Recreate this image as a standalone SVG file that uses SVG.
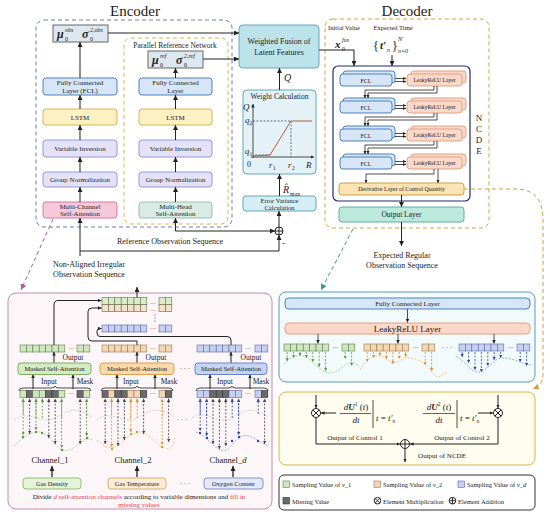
<svg xmlns="http://www.w3.org/2000/svg" width="550" height="515" viewBox="0 0 550 515">
<defs>
<marker id="a" viewBox="0 0 6 6" refX="6" refY="3" markerWidth="5" markerHeight="5" markerUnits="userSpaceOnUse" orient="auto-start-reverse"><path d="M0,0L6,3L0,6z" fill="#222"/></marker>
<marker id="as" viewBox="0 0 6 6" refX="6" refY="3" markerWidth="3.5" markerHeight="3.5" markerUnits="userSpaceOnUse" orient="auto-start-reverse"><path d="M0,0L6,3L0,6z" fill="#222"/></marker>
<marker id="mg" viewBox="0 0 6 6" refX="6" refY="3" markerWidth="3.5" markerHeight="3.5" markerUnits="userSpaceOnUse" orient="auto-start-reverse"><path d="M0,0L6,3L0,6z" fill="#5a9a3a"/></marker>
<marker id="mo" viewBox="0 0 6 6" refX="6" refY="3" markerWidth="3.5" markerHeight="3.5" markerUnits="userSpaceOnUse" orient="auto-start-reverse"><path d="M0,0L6,3L0,6z" fill="#e0922a"/></marker>
<marker id="mb" viewBox="0 0 6 6" refX="6" refY="3" markerWidth="3.5" markerHeight="3.5" markerUnits="userSpaceOnUse" orient="auto-start-reverse"><path d="M0,0L6,3L0,6z" fill="#2a44c0"/></marker>
<marker id="md" viewBox="0 0 6 6" refX="6" refY="3" markerWidth="3.5" markerHeight="3.5" markerUnits="userSpaceOnUse" orient="auto-start-reverse"><path d="M0,0L6,3L0,6z" fill="#444"/></marker>
<marker id="mp" viewBox="0 0 6 6" refX="6" refY="3" markerWidth="6" markerHeight="6" markerUnits="userSpaceOnUse" orient="auto"><path d="M0,0L6,3L0,6z" fill="#b0608a"/></marker>
<marker id="mt" viewBox="0 0 6 6" refX="6" refY="3" markerWidth="6" markerHeight="6" markerUnits="userSpaceOnUse" orient="auto"><path d="M0,0L6,3L0,6z" fill="#3a9a8a"/></marker>
<marker id="my" viewBox="0 0 6 6" refX="6" refY="3" markerWidth="6" markerHeight="6" markerUnits="userSpaceOnUse" orient="auto"><path d="M0,0L6,3L0,6z" fill="#d4a030"/></marker>
</defs>
<style>
text{font-family:"Liberation Serif","Times New Roman",serif;fill:#222}
.c{text-anchor:middle}
.ln{fill:none;stroke:#222;stroke-width:1}
.lt{fill:none;stroke:#222;stroke-width:0.8}
.mu{fill:#dde7f0;stroke:#666;stroke-width:1}
.fcl{fill:#d6e6f6;stroke:#4f81bd;stroke-width:1}
.lstm{fill:#fdf1c4;stroke:#d6b656;stroke-width:1}
.lav{fill:#e4e2f7;stroke:#9a95d5;stroke-width:1}
.mcsa{fill:#f6c9d9;stroke:#d77aa5;stroke-width:1}
.mhsa{fill:#d9ebe3;stroke:#96bfae;stroke-width:1}
.teal{fill:#bde3ea;stroke:#62a9b8;stroke-width:1}
.tl{fill:#e4f2f7;stroke:#62a9b8;stroke-width:1}
.lr{fill:#fbd8c8;stroke:#e0a284;stroke-width:1}
.der{fill:#fbe3b5;stroke:#d4a040;stroke-width:1}
.out{fill:#bde8dc;stroke:#62b0a0;stroke-width:1}
.cg{fill:#cfe6bf;stroke:#5e7d4e;stroke-width:.6}
.co{fill:#f3d6b3;stroke:#9a7a50;stroke-width:.6}
.cb{fill:#c7d1ef;stroke:#5a6aa8;stroke-width:.6}
.cd{fill:#6a6a6a;stroke:#333;stroke-width:.6}
.cw{fill:#f1e3c8;stroke:#6a6050;stroke-width:.6}
.cy{fill:#d9ebc9;stroke:#5e7d4e;stroke-width:.6}
.dg{fill:none;stroke:#5a9a3a;stroke-width:.8;stroke-dasharray:2,1.5}
.do{fill:none;stroke:#e0922a;stroke-width:.8;stroke-dasharray:2,1.5}
.db{fill:none;stroke:#2a44c0;stroke-width:.8;stroke-dasharray:2,1.5}
.dd{fill:none;stroke:#444;stroke-width:.8;stroke-dasharray:2,1.5}
.wg{fill:none;stroke:#8cc070;stroke-width:.7;stroke-dasharray:2,1.5}
.wo{fill:none;stroke:#e8b060;stroke-width:.7;stroke-dasharray:2,1.5}
.wb{fill:none;stroke:#7088d8;stroke-width:.7;stroke-dasharray:2,1.5}
.wgr{fill:none;stroke:#b8c0b0;stroke-width:.7;stroke-dasharray:2,1.5}
</style>
<rect width="550" height="515" fill="#fff"/>

<!-- Titles -->
<text x="135" y="16" class="c" font-size="15">Encoder</text>
<text x="407" y="16" class="c" font-size="15">Decoder</text>

<!-- Encoder frame -->
<g id="encoder">
<rect x="36" y="20" width="196" height="207" rx="8" fill="none" stroke="#6a7bb5" stroke-width="1" stroke-dasharray="4,3"/>
</g>
<g id="parallel-ref">
<rect x="124" y="38" width="104" height="186" rx="7" fill="none" stroke="#d9b650" stroke-width="1" stroke-dasharray="4,3"/>
<text x="175" y="48" class="c" font-size="7.5">Parallel Reference Network</text>
</g>

<g id="mu-obs">
<rect class="mu" x="53" y="25" width="55" height="17"/>
<text x="57" y="38" font-size="12" font-weight="bold" font-style="italic">μ</text>
<text x="65" y="41" font-size="6">0</text>
<text x="65" y="32" font-size="6" font-style="italic">obs</text>
<text x="82" y="38" font-size="12" font-weight="bold" font-style="italic">σ</text>
<text x="90" y="41" font-size="6">0</text>
<text x="90" y="32" font-size="6" font-style="italic">2,obs</text>
</g>
<g id="fcl-1"><rect class="fcl" x="43" y="78" width="74" height="17" rx="3"/>
<text x="80" y="85" class="c" font-size="7">Fully Connected</text><text x="80" y="93" class="c" font-size="7">Layer (FCL)</text></g>
<g id="lstm-1"><rect class="lstm" x="43" y="109" width="74" height="16" rx="3"/><text x="80" y="119.5" class="c" font-size="7">LSTM</text></g>
<g id="varinv-1"><rect class="lav" x="43" y="140" width="74" height="17" rx="3"/><text x="80" y="151" class="c" font-size="7">Variable Inversion</text></g>
<g id="groupnorm-1"><rect class="lav" x="43" y="172" width="74" height="15" rx="3"/><text x="80" y="182" class="c" font-size="7">Group Normalization</text></g>
<g id="mcsa"><rect class="mcsa" x="43" y="202" width="74" height="16" rx="3"/>
<text x="80" y="209" class="c" font-size="7">Multi-Channel</text><text x="80" y="216" class="c" font-size="7">Self-Attention</text></g>

<g id="mu-ref">
<rect class="mu" x="148" y="51" width="55" height="17"/>
<text x="152" y="64" font-size="12" font-weight="bold" font-style="italic">μ</text>
<text x="160" y="67" font-size="6">0</text>
<text x="160" y="58" font-size="6" font-style="italic">ref</text>
<text x="176" y="64" font-size="12" font-weight="bold" font-style="italic">σ</text>
<text x="184" y="67" font-size="6">0</text>
<text x="184" y="58" font-size="6" font-style="italic">2,ref</text>
</g>
<g id="fcl-2"><rect class="fcl" x="139" y="78" width="73" height="17" rx="3"/>
<text x="175.5" y="85" class="c" font-size="7">Fully Connected</text><text x="175.5" y="93" class="c" font-size="7">Layer</text></g>
<g id="lstm-2"><rect class="lstm" x="139" y="109" width="73" height="16" rx="3"/><text x="175.5" y="119.5" class="c" font-size="7">LSTM</text></g>
<g id="varinv-2"><rect class="lav" x="139" y="140" width="73" height="17" rx="3"/><text x="175.5" y="151" class="c" font-size="7">Variable Inversion</text></g>
<g id="groupnorm-2"><rect class="lav" x="139" y="172" width="73" height="15" rx="3"/><text x="175.5" y="182" class="c" font-size="7">Group Normalization</text></g>
<g id="mhsa"><rect class="mhsa" x="139" y="202" width="73" height="16" rx="3"/>
<text x="175.5" y="209" class="c" font-size="7">Multi-Head</text><text x="175.5" y="216" class="c" font-size="7">Self-Attention</text></g>

<g id="fusion"><rect class="teal" x="239" y="25" width="80" height="43" rx="4"/>
<text x="279" y="44" class="c" font-size="8">Weighted Fusion of</text><text x="279" y="55" class="c" font-size="8">Latent Features</text></g>

<g id="weight-calc">
<rect class="tl" x="243" y="90" width="73" height="84" rx="4"/>
<text x="279.5" y="99" class="c" font-size="7.5">Weight Calculation</text>
<path d="M253,158V104" class="lt" marker-end="url(#as)"/>
<path d="M251,157H314" class="lt" marker-end="url(#as)"/>
<path d="M253,121H291M291,121V157M255,155H270" fill="none" stroke="#333" stroke-width=".7" stroke-dasharray="2,1.5"/>
<path d="M253,156L270,155L291,121H312" fill="none" stroke="#b05a40" stroke-width="1"/>
<text x="243" y="110" font-size="9" font-style="italic">Q</text>
<text x="245" y="123" font-size="8.5" font-style="italic">q</text><text x="249.5" y="125" font-size="5.5">2</text>
<text x="245" y="154" font-size="8.5" font-style="italic">q</text><text x="249.5" y="156" font-size="5.5">1</text>
<text x="247" y="167" font-size="8">0</text>
<text x="269" y="168" font-size="8.5" font-style="italic">r</text><text x="273" y="170" font-size="5.5">1</text>
<text x="288" y="168" font-size="8.5" font-style="italic">r</text><text x="292" y="170" font-size="5.5">2</text>
<text x="306" y="168" font-size="9" font-style="italic">R</text>
</g>

<g id="error-var"><rect class="tl" x="243" y="196" width="73" height="15" rx="3" style="fill:#d5eef5"/>
<text x="279.5" y="202.5" class="c" font-size="6.5">Error Variance</text><text x="279.5" y="209.5" class="c" font-size="6.5">Calculation</text></g>

<g id="plus-node"><circle cx="279" cy="231" r="4" fill="#fff" stroke="#222" stroke-width="1"/><path d="M275,231H283M279,227V235" stroke="#222" stroke-width="1"/>
<text x="282" y="246" font-size="9">-</text></g>

<!-- Decoder -->
<g id="decoder">
<rect x="325" y="19" width="164" height="209" rx="8" fill="none" stroke="#d9a040" stroke-width="1" stroke-dasharray="4,3"/>
<text x="344" y="30" class="c" font-size="6.5">Initial Value</text>
<text x="393" y="30" class="c" font-size="6.5">Expected Time</text>
<text x="335" y="48" font-size="11" font-weight="bold" font-style="italic">x</text>
<text x="342" y="51" font-size="6">0</text><text x="342" y="42" font-size="6" font-style="italic">fus</text>
<text x="373" y="50" font-size="12">{</text>
<text x="380" y="49" font-size="11" font-weight="bold" font-style="italic">t′</text>
<text x="387" y="52" font-size="6" font-style="italic">n</text>
<text x="392" y="50" font-size="12">}</text>
<text x="398" y="41" font-size="6" font-style="italic">N′</text>
<text x="398" y="53" font-size="6" font-style="italic">n=0</text>
</g>

<g id="ncde">
<rect x="333" y="66" width="137" height="135" rx="5" fill="#fff" stroke="#1f2d6b" stroke-width="1.2"/>
<text x="479" y="121" class="c" font-size="9">N</text>
<text x="479" y="132" class="c" font-size="9">C</text>
<text x="479" y="143" class="c" font-size="9">D</text>
<text x="479" y="154" class="c" font-size="9">E</text>
</g>
<g id="fcl-row1"><rect class="fcl" x="343" y="71" width="52" height="12" rx="3"/><rect class="fcl" x="340" y="74" width="52" height="12" rx="3"/><text x="366" y="82.5" class="c" font-size="6">FCL</text></g>
<g id="lrelu-row1"><rect class="lr" x="411" y="71" width="55" height="12" rx="3"/><rect class="lr" x="407" y="74" width="55" height="12" rx="3"/><text x="434.5" y="82.3" class="c" font-size="5.6">LeakyReLU Layer</text></g>
<g id="fcl-row2"><rect class="fcl" x="343" y="98" width="52" height="12" rx="3"/><rect class="fcl" x="340" y="101" width="52" height="12" rx="3"/><text x="366" y="109.5" class="c" font-size="6">FCL</text></g>
<g id="lrelu-row2"><rect class="lr" x="411" y="98" width="55" height="12" rx="3"/><rect class="lr" x="407" y="101" width="55" height="12" rx="3"/><text x="434.5" y="109.3" class="c" font-size="5.6">LeakyReLU Layer</text></g>
<g id="fcl-row3"><rect class="fcl" x="343" y="126" width="52" height="12" rx="3"/><rect class="fcl" x="340" y="129" width="52" height="12" rx="3"/><text x="366" y="137.5" class="c" font-size="6">FCL</text></g>
<g id="lrelu-row3"><rect class="lr" x="411" y="126" width="55" height="12" rx="3"/><rect class="lr" x="407" y="129" width="55" height="12" rx="3"/><text x="434.5" y="137.3" class="c" font-size="5.6">LeakyReLU Layer</text></g>
<g id="fcl-row4"><rect class="fcl" x="343" y="154" width="52" height="12" rx="3"/><rect class="fcl" x="340" y="157" width="52" height="12" rx="3"/><text x="366" y="165.5" class="c" font-size="6">FCL</text></g>
<g id="lrelu-row4"><rect class="lr" x="411" y="154" width="55" height="12" rx="3"/><rect class="lr" x="407" y="157" width="55" height="12" rx="3"/><text x="434.5" y="165.3" class="c" font-size="5.6">LeakyReLU Layer</text></g>
<g id="derivative"><rect class="der" x="339" y="183" width="125" height="12" rx="3"/><text x="401.5" y="191.2" class="c" font-size="5.8">Derivative Layer of Control Quantity</text></g>
<g id="output-layer"><rect class="out" x="339" y="207" width="125" height="15" rx="3"/><text x="401.5" y="217" class="c" font-size="7.5">Output Layer</text></g>

<!-- Free texts -->
<text x="170" y="244" class="c" font-size="8">Reference Observation Sequence</text>
<text x="89" y="267" class="c" font-size="8">Non-Aligned Irregular</text>
<text x="89" y="277" class="c" font-size="8">Observation Sequence</text>
<text x="402" y="258" class="c" font-size="8">Expected Regular</text>
<text x="402" y="268" class="c" font-size="8">Observation Sequence</text>
<text x="284" y="81" font-size="10" font-style="italic">Q</text>
<text x="283" y="193" font-size="10" font-style="italic">R̂</text>
<text x="290" y="196" font-size="6">max</text>

<!-- Connectors -->
<g id="connectors">
<path class="ln" d="M80,78V42" marker-end="url(#a)"/>
<path class="ln" d="M80,109V95" marker-end="url(#a)"/>
<path class="ln" d="M80,140V125" marker-end="url(#a)"/>
<path class="ln" d="M80,172V157" marker-end="url(#a)"/>
<path class="ln" d="M80,202V187" marker-end="url(#a)"/>
<path class="ln" d="M175.5,78V68" marker-end="url(#a)"/>
<path class="ln" d="M175.5,109V95" marker-end="url(#a)"/>
<path class="ln" d="M175.5,140V125" marker-end="url(#a)"/>
<path class="ln" d="M175.5,172V157" marker-end="url(#a)"/>
<path class="ln" d="M175.5,202V187" marker-end="url(#a)"/>
<path class="ln" d="M108,33H239" marker-end="url(#a)"/>
<path class="ln" d="M203,59H239" marker-end="url(#a)"/>
<path class="ln" d="M279.5,90V68" marker-end="url(#a)"/>
<path class="ln" d="M279.5,196V174" marker-end="url(#a)"/>
<path class="ln" d="M279,227V211" marker-end="url(#a)"/>
<path class="ln" d="M175.5,231V218" marker-end="url(#a)"/>
<path class="ln" d="M175.5,231H275" marker-end="url(#a)"/>
<path class="ln" d="M80,256V218" marker-end="url(#a)"/>
<path class="ln" d="M80,251H279V235" marker-end="url(#a)"/>
<path class="ln" d="M319,50H354V66" marker-end="url(#a)"/>
<path class="ln" d="M392,55V66" marker-end="url(#a)"/>
<path class="ln" d="M401.5,195V207" marker-end="url(#a)"/>
<path class="ln" d="M401.5,222V246" marker-end="url(#a)"/>
<!-- NCDE internal -->
<g class="lt" fill="none">
<path d="M395,78.5H406" marker-end="url(#as)"/><path d="M395,81.5H406" marker-end="url(#as)"/>
<path d="M395,105.5H406" marker-end="url(#as)"/><path d="M395,108.5H406" marker-end="url(#as)"/>
<path d="M395,133.5H406" marker-end="url(#as)"/><path d="M395,136.5H406" marker-end="url(#as)"/>
<path d="M395,161.5H406" marker-end="url(#as)"/><path d="M395,164.5H406" marker-end="url(#as)"/>
<path d="M434,86V90H365V98" marker-end="url(#as)"/><path d="M437,86V93H368V98" marker-end="url(#as)"/>
<path d="M434,113V117H365V126" marker-end="url(#as)"/><path d="M437,113V120H368V126" marker-end="url(#as)"/>
<path d="M434,141V145H365V154" marker-end="url(#as)"/><path d="M437,141V148H368V154" marker-end="url(#as)"/>
<path d="M434,169V174H366V183" marker-end="url(#as)"/><path d="M438,169V183" marker-end="url(#as)"/>
</g>
<!-- dashed links -->
<path d="M53,219L21,290" fill="none" stroke="#b0608a" stroke-width="1" stroke-dasharray="4,3" marker-end="url(#mp)"/>
<path d="M353,229L321,290" fill="none" stroke="#3a9a8a" stroke-width="1" stroke-dasharray="4,3" marker-end="url(#mt)"/>
<path d="M464,189H515C535,189 543,200 543,220V374C543,382 540,386 533,389" fill="none" stroke="#d4a030" stroke-width="1" stroke-dasharray="4,3" marker-end="url(#my)"/>
</g>

<!-- Bottom-left panel -->
<g id="channel-panel">
<rect x="8" y="293" width="264" height="216" rx="8" fill="#fdf6f9" stroke="#c98aa8" stroke-width="1"/>
<g>
<rect class="cy" x="102" y="297.5" width="6.4" height="7"/><rect class="cy" x="108.4" y="297.5" width="6.4" height="7"/><rect class="cy" x="114.8" y="297.5" width="6.4" height="7"/><rect class="cy" x="121.2" y="297.5" width="6.4" height="7"/><rect class="cy" x="127.6" y="297.5" width="6.4" height="7"/><rect class="cy" x="134" y="297.5" width="6.4" height="7"/><rect class="cy" x="140.4" y="297.5" width="6.4" height="7"/><rect class="cy" x="159" y="297.5" width="6.4" height="7"/><rect class="cy" x="165.4" y="297.5" width="6.4" height="7"/>
<rect class="cw" x="102" y="304.5" width="6.4" height="7"/><rect class="cw" x="108.4" y="304.5" width="6.4" height="7"/><rect class="cw" x="114.8" y="304.5" width="6.4" height="7"/><rect class="cw" x="121.2" y="304.5" width="6.4" height="7"/><rect class="cw" x="127.6" y="304.5" width="6.4" height="7"/><rect class="cw" x="134" y="304.5" width="6.4" height="7"/><rect class="cw" x="140.4" y="304.5" width="6.4" height="7"/><rect class="cw" x="159" y="304.5" width="6.4" height="7"/><rect class="cw" x="165.4" y="304.5" width="6.4" height="7"/>
<rect class="cb" x="102" y="325" width="6.4" height="7"/><rect class="cb" x="108.4" y="325" width="6.4" height="7"/><rect class="cb" x="114.8" y="325" width="6.4" height="7"/><rect class="cb" x="121.2" y="325" width="6.4" height="7"/><rect class="cb" x="127.6" y="325" width="6.4" height="7"/><rect class="cb" x="134" y="325" width="6.4" height="7"/><rect class="cb" x="140.4" y="325" width="6.4" height="7"/><rect class="cb" x="159" y="325" width="6.4" height="7"/><rect class="cb" x="165.4" y="325" width="6.4" height="7"/>
<text x="153" y="306" class="c" font-size="6">···</text><text x="153" y="313" class="c" font-size="6">···</text><text x="153" y="331" class="c" font-size="6">···</text>
<circle cx="155" cy="315" r=".6" fill="#333"/><circle cx="155" cy="318" r=".6" fill="#333"/><circle cx="155" cy="321" r=".6" fill="#333"/>
</g>
<path class="ln" d="M137,297.5V287" marker-end="url(#a)"/>
<g>
<rect class="cg" x="20" y="345" width="6.4" height="7"/><rect class="cg" x="26.4" y="345" width="6.4" height="7"/><rect class="cg" x="32.8" y="345" width="6.4" height="7"/><rect class="cg" x="39.2" y="345" width="6.4" height="7"/><rect class="cg" x="45.6" y="345" width="6.4" height="7"/><rect class="cg" x="52" y="345" width="6.4" height="7"/><rect class="cg" x="58.4" y="345" width="6.4" height="7"/><rect class="cg" x="77" y="345" width="6.4" height="7"/><rect class="cg" x="83.4" y="345" width="6.4" height="7"/>
<rect class="co" x="102" y="345" width="6.4" height="7"/><rect class="co" x="108.4" y="345" width="6.4" height="7"/><rect class="co" x="114.8" y="345" width="6.4" height="7"/><rect class="co" x="121.2" y="345" width="6.4" height="7"/><rect class="co" x="127.6" y="345" width="6.4" height="7"/><rect class="co" x="134" y="345" width="6.4" height="7"/><rect class="co" x="140.4" y="345" width="6.4" height="7"/><rect class="co" x="159" y="345" width="6.4" height="7"/><rect class="co" x="165.4" y="345" width="6.4" height="7"/>
<rect class="cb" x="197" y="345" width="6.4" height="7"/><rect class="cb" x="203.4" y="345" width="6.4" height="7"/><rect class="cb" x="209.8" y="345" width="6.4" height="7"/><rect class="cb" x="216.2" y="345" width="6.4" height="7"/><rect class="cb" x="222.6" y="345" width="6.4" height="7"/><rect class="cb" x="229" y="345" width="6.4" height="7"/><rect class="cb" x="235.4" y="345" width="6.4" height="7"/><rect class="cb" x="255" y="345" width="6.4" height="7"/><rect class="cb" x="261.4" y="345" width="6.4" height="7"/>
<text x="71" y="351" class="c" font-size="6">···</text><text x="153" y="351" class="c" font-size="6">···</text><text x="248" y="351" class="c" font-size="6">···</text>
</g>
<g class="ln">
<path d="M54,345V305Q54,300.5 58,300.5H101.5" marker-end="url(#as)"/>
<path d="M137,345V341H92Q88,341 88,337V311.5Q88,308 92,308H101.5" marker-end="url(#as)"/>
<path d="M231,345V340Q231,336.5 227,336.5H100Q97,336.5 97,333V331Q97,328.5 100,328.5H101.5" marker-end="url(#as)"/>
<path d="M54,363V352" marker-end="url(#as)"/>
<path d="M137,363V352" marker-end="url(#as)"/>
<path d="M231,363V352" marker-end="url(#as)"/>
<path d="M33,389V374.5" marker-end="url(#as)"/>
<path d="M73,389V374.5" marker-end="url(#as)"/>
<path d="M117,389V374.5" marker-end="url(#as)"/>
<path d="M155,389V374.5" marker-end="url(#as)"/>
<path d="M210,389V374.5" marker-end="url(#as)"/>
<path d="M250,389V374.5" marker-end="url(#as)"/>
</g>
<text x="73" y="360" class="c" font-size="7.5">Output</text>
<text x="156" y="360" class="c" font-size="7.5">Output</text>
<text x="251" y="360" class="c" font-size="7.5">Output</text>
<g id="msa-1"><rect x="18" y="363" width="73" height="11.5" rx="3" fill="#d5ebc5" stroke="#7ab060" stroke-width="1"/><text x="54.5" y="371.3" class="c" font-size="6.6">Masked Self-Attention</text></g>
<g id="msa-2"><rect x="100" y="363" width="74" height="11.5" rx="3" fill="#fbd9a8" stroke="#e0a050" stroke-width="1"/><text x="137" y="371.3" class="c" font-size="6.6">Masked Self-Attention</text></g>
<g id="msa-d"><rect x="195" y="363" width="72" height="11.5" rx="3" fill="#c5d4f2" stroke="#6a85cc" stroke-width="1"/><text x="231" y="371.3" class="c" font-size="6.6">Masked Self-Attention</text></g>
<text x="185" y="371" class="c" font-size="7">· · ·</text>
<text x="49" y="384" class="c" font-size="7.5">Input</text><text x="85" y="384" class="c" font-size="7.5">Mask</text>
<text x="131" y="384" class="c" font-size="7.5">Input</text><text x="169" y="384" class="c" font-size="7.5">Mask</text>
<text x="225" y="384" class="c" font-size="7.5">Input</text><text x="261" y="384" class="c" font-size="7.5">Mask</text>
<g class="lt">
<path d="M19,391Q19,388 23,388H51Q55,388 55,386Q55,388 59,388H87Q91,388 91,391"/>
<path d="M101,391Q101,388 105,388H133Q137,388 137,386Q137,388 141,388H169Q173,388 173,391"/>
<path d="M196,391Q196,388 200,388H228Q232,388 232,386Q232,388 236,388H264Q268,388 268,391"/>
</g>
<g>
<rect class="cg" x="20" y="390.5" width="6.4" height="7"/><rect class="cd" x="26.4" y="390.5" width="6.4" height="7"/><rect class="cg" x="32.8" y="390.5" width="6.4" height="7"/><rect class="cg" x="39.2" y="390.5" width="6.4" height="7"/><rect class="cd" x="45.6" y="390.5" width="6.4" height="7"/><rect class="cd" x="52" y="390.5" width="6.4" height="7"/><rect class="cg" x="58.4" y="390.5" width="6.4" height="7"/><rect class="cd" x="77" y="390.5" width="6.4" height="7"/><rect class="cg" x="83.4" y="390.5" width="6.4" height="7"/>
<rect class="cd" x="102" y="390.5" width="6.4" height="7"/><rect class="co" x="108.4" y="390.5" width="6.4" height="7"/><rect class="cd" x="114.8" y="390.5" width="6.4" height="7"/><rect class="cd" x="121.2" y="390.5" width="6.4" height="7"/><rect class="co" x="127.6" y="390.5" width="6.4" height="7"/><rect class="co" x="134" y="390.5" width="6.4" height="7"/><rect class="cd" x="140.4" y="390.5" width="6.4" height="7"/><rect class="co" x="159" y="390.5" width="6.4" height="7"/><rect class="cd" x="165.4" y="390.5" width="6.4" height="7"/>
<rect class="cb" x="197" y="390.5" width="6.4" height="7"/><rect class="cb" x="203.4" y="390.5" width="6.4" height="7"/><rect class="cd" x="209.8" y="390.5" width="6.4" height="7"/><rect class="cd" x="216.2" y="390.5" width="6.4" height="7"/><rect class="cd" x="222.6" y="390.5" width="6.4" height="7"/><rect class="cb" x="229" y="390.5" width="6.4" height="7"/><rect class="cb" x="235.4" y="390.5" width="6.4" height="7"/><rect class="cb" x="255" y="390.5" width="6.4" height="7"/><rect class="cd" x="261.4" y="390.5" width="6.4" height="7"/>
<text x="71" y="396" class="c" font-size="6">···</text><text x="153" y="396" class="c" font-size="6">···</text><text x="248" y="396" class="c" font-size="6">···</text>
</g>
<path class="wgr" d="M14,420C28,408 42,426 55,418S76,406 92,417"/>
<path class="wgr" d="M97,420C110,408 124,426 137,418S158,406 175,417"/>
<path class="wgr" d="M192,418C205,408 219,426 232,418S252,406 268,417"/>
<path class="wg" d="M14,446C20,440 28,433 36,432S48,436 55,444S68,452 75,447S86,436 92,440"/>
<path class="wo" d="M97,440C105,448 112,450 120,444S132,432 140,432S155,445 165,448S172,440 176,437"/>
<path class="wb" d="M196,432C205,434 212,446 220,450S232,442 240,437S256,440 268,446"/>
<g fill="#5a9a3a"><circle cx="23" cy="437" r="1.2"/><circle cx="36" cy="432" r="1.2"/><circle cx="42" cy="433" r="1.2"/><circle cx="62" cy="450" r="1.2"/><circle cx="87" cy="438" r="1.2"/></g>
<g fill="#d4a020"><circle cx="112" cy="449" r="1.2"/><circle cx="131" cy="434" r="1.2"/><circle cx="137" cy="432" r="1.2"/><circle cx="162" cy="447" r="1.2"/></g>
<g fill="#2a44c0"><circle cx="200" cy="433" r="1.2"/><circle cx="207" cy="438" r="1.2"/><circle cx="232" cy="441" r="1.2"/><circle cx="239" cy="437" r="1.2"/><circle cx="258" cy="441" r="1.2"/></g>
<g class="dg"><path d="M23.2,414V398.5" marker-end="url(#mg)"/><path d="M36,418V398.5" marker-end="url(#mg)"/><path d="M42.4,418V398.5" marker-end="url(#mg)"/><path d="M61.6,417V398.5" marker-end="url(#mg)"/><path d="M86.6,416V398.5" marker-end="url(#mg)"/>
<path d="M23.2,403V435" marker-end="url(#mg)"/><path d="M36,403V430" marker-end="url(#mg)"/><path d="M61.6,403V448" marker-end="url(#mg)"/><path d="M86.6,403V436" marker-end="url(#mg)"/></g>
<g class="do"><path d="M111.6,414V398.5" marker-end="url(#mo)"/><path d="M130.8,418V398.5" marker-end="url(#mo)"/><path d="M137.2,418V398.5" marker-end="url(#mo)"/><path d="M162.2,416V398.5" marker-end="url(#mo)"/>
<path d="M111.6,403V447" marker-end="url(#mo)"/><path d="M130.8,403V432" marker-end="url(#mo)"/><path d="M162.2,403V445" marker-end="url(#mo)"/></g>
<g class="db"><path d="M200.2,414V398.5" marker-end="url(#mb)"/><path d="M206.6,416V398.5" marker-end="url(#mb)"/><path d="M232.2,418V398.5" marker-end="url(#mb)"/><path d="M238.6,416V398.5" marker-end="url(#mb)"/><path d="M258.2,414V398.5" marker-end="url(#mb)"/>
<path d="M200.2,403V431" marker-end="url(#mb)"/><path d="M206.6,403V436" marker-end="url(#mb)"/><path d="M238.6,403V435" marker-end="url(#mb)"/></g>
<g class="dd"><path d="M29.6,434V398.5" marker-start="url(#md)" marker-end="url(#md)"/><path d="M48.8,438V398.5" marker-start="url(#md)" marker-end="url(#md)"/><path d="M55.2,444V398.5" marker-start="url(#md)" marker-end="url(#md)"/><path d="M80.2,444V398.5" marker-start="url(#md)" marker-end="url(#md)"/>
<path d="M105.2,444V398.5" marker-start="url(#md)" marker-end="url(#md)"/><path d="M118,446V398.5" marker-start="url(#md)" marker-end="url(#md)"/><path d="M124.4,440V398.5" marker-start="url(#md)" marker-end="url(#md)"/><path d="M143.6,434V398.5" marker-start="url(#md)" marker-end="url(#md)"/><path d="M168.6,442V398.5" marker-start="url(#md)" marker-end="url(#md)"/>
<path d="M213,444V398.5" marker-start="url(#md)" marker-end="url(#md)"/><path d="M219.4,449V398.5" marker-start="url(#md)" marker-end="url(#md)"/><path d="M225.8,446V398.5" marker-start="url(#md)" marker-end="url(#md)"/><path d="M264.6,444V398.5" marker-start="url(#md)" marker-end="url(#md)"/></g>
<text x="182" y="422" class="c" font-size="7">· · ·</text>
<text x="50" y="463" class="c" font-size="8.5">Channel_1</text>
<text x="133" y="463" class="c" font-size="8.5">Channel_2</text>
<text x="228" y="463" class="c" font-size="8.5">Channel_<tspan font-style="italic">d</tspan></text>
<path d="M52,477V466" fill="none" stroke="#222" stroke-width="1.3" marker-end="url(#a)"/>
<path d="M137,477V466" fill="none" stroke="#222" stroke-width="1.3" marker-end="url(#a)"/>
<path d="M233,477V466" fill="none" stroke="#222" stroke-width="1.3" marker-end="url(#a)"/>
<g id="var-gas-density"><rect x="23" y="478" width="58" height="11" rx="3" fill="#e5f3d9" stroke="#90c070" stroke-width="1"/><text x="52" y="486" class="c" font-size="6.5">Gas Density</text></g>
<g id="var-gas-temp"><rect x="108" y="478" width="58" height="11" rx="3" fill="#fbecd8" stroke="#d8b070" stroke-width="1"/><text x="137" y="486" class="c" font-size="6.5">Gas Temperature</text></g>
<g id="var-oxygen"><rect x="204" y="478" width="59" height="11" rx="3" fill="#e4e9f9" stroke="#8090d0" stroke-width="1"/><text x="233.5" y="486" class="c" font-size="6.5">Oxygen Content</text></g>
<text x="185" y="486" class="c" font-size="7">· · ·</text>
<text x="139" y="499" class="c" font-size="7">Divide <tspan font-style="italic" fill="#e0405a">d</tspan><tspan fill="#e0405a"> self-attention channels</tspan> according to variable dimensions and <tspan fill="#e0405a">fill in</tspan></text>
<text x="139" y="507" class="c" font-size="7" style="fill:#e0405a">missing values</text>
</g>

<!-- Bottom-right panel -->
<g id="output-panel">
<rect x="279" y="292" width="256" height="90" rx="7" fill="#f2fafc" stroke="#5a9ab0" stroke-width="1"/>
<rect class="fcl" x="285" y="298" width="245" height="11" rx="4"/>
<text x="407.5" y="306" class="c" font-size="7">Fully Connected Layer</text>
<rect class="lr" x="285" y="323" width="245" height="11" rx="4"/>
<text x="407.5" y="331.5" class="c" font-size="9">LeakyReLU Layer</text>
<path class="lt" d="M407.5,309V322.5" marker-end="url(#as)"/>
<path class="lt" d="M318,334V343.5" marker-end="url(#as)"/>
<path class="lt" d="M398,334V343.5" marker-end="url(#as)"/>
<path class="lt" d="M494,334V343.5" marker-end="url(#as)"/>
<g>
<rect class="cg" x="284" y="344" width="6.4" height="7"/><rect class="cg" x="290.4" y="344" width="6.4" height="7"/><rect class="cg" x="296.8" y="344" width="6.4" height="7"/><rect class="cg" x="303.2" y="344" width="6.4" height="7"/><rect class="cg" x="309.6" y="344" width="6.4" height="7"/><rect class="cg" x="316" y="344" width="6.4" height="7"/><rect class="cg" x="322.4" y="344" width="6.4" height="7"/><rect class="cg" x="342" y="344" width="6.4" height="7"/><rect class="cg" x="348.4" y="344" width="6.4" height="7"/>
<rect class="co" x="364" y="344" width="6.4" height="7"/><rect class="co" x="370.4" y="344" width="6.4" height="7"/><rect class="co" x="376.8" y="344" width="6.4" height="7"/><rect class="co" x="383.2" y="344" width="6.4" height="7"/><rect class="co" x="389.6" y="344" width="6.4" height="7"/><rect class="co" x="396" y="344" width="6.4" height="7"/><rect class="co" x="402.4" y="344" width="6.4" height="7"/><rect class="co" x="422" y="344" width="6.4" height="7"/><rect class="co" x="428.4" y="344" width="6.4" height="7"/>
<rect class="cb" x="459" y="344" width="6.4" height="7"/><rect class="cb" x="465.4" y="344" width="6.4" height="7"/><rect class="cb" x="471.8" y="344" width="6.4" height="7"/><rect class="cb" x="478.2" y="344" width="6.4" height="7"/><rect class="cb" x="484.6" y="344" width="6.4" height="7"/><rect class="cb" x="491" y="344" width="6.4" height="7"/><rect class="cb" x="497.4" y="344" width="6.4" height="7"/><rect class="cb" x="517" y="344" width="6.4" height="7"/><rect class="cb" x="523.4" y="344" width="6.4" height="7"/>
<text x="335.5" y="350" class="c" font-size="6">···</text><text x="415.5" y="350" class="c" font-size="6">···</text><text x="510.5" y="350" class="c" font-size="6">···</text>
<text x="447" y="350" class="c" font-size="7">· · ·</text>
</g>
<path class="wg" d="M284,364C292,356 300,352 310,360S325,376 335,372S350,356 358,366"/>
<path class="wo" d="M360,370C368,356 378,352 388,360S400,356 410,358S425,362 432,372S440,374 448,372"/>
<path class="wb" d="M456,356C466,362 472,374 480,372S494,358 502,358S515,360 520,362S528,366 532,364"/>
<g class="dg">
<path d="M287.2,352V361" marker-end="url(#mg)"/><path d="M293.6,352V358" marker-end="url(#mg)"/><path d="M300,352V356" marker-end="url(#mg)"/><path d="M306.4,352V358" marker-end="url(#mg)"/><path d="M312.8,352V362" marker-end="url(#mg)"/><path d="M319.2,352V367" marker-end="url(#mg)"/><path d="M325.6,352V371" marker-end="url(#mg)"/><path d="M345.2,352V359" marker-end="url(#mg)"/><path d="M351.6,352V366" marker-end="url(#mg)"/>
</g>
<g class="do">
<path d="M367.2,352V362" marker-end="url(#mo)"/><path d="M373.6,352V358" marker-end="url(#mo)"/><path d="M380,352V356" marker-end="url(#mo)"/><path d="M386.4,352V359" marker-end="url(#mo)"/><path d="M392.8,352V364" marker-end="url(#mo)"/><path d="M399.2,352V359" marker-end="url(#mo)"/><path d="M405.6,352V357" marker-end="url(#mo)"/><path d="M425.2,352V365" marker-end="url(#mo)"/><path d="M431.6,352V371" marker-end="url(#mo)"/>
</g>
<g class="db">
<path d="M462.2,352V357" marker-end="url(#mb)"/><path d="M468.6,352V363" marker-end="url(#mb)"/><path d="M475,352V370" marker-end="url(#mb)"/><path d="M481.4,352V372" marker-end="url(#mb)"/><path d="M487.8,352V366" marker-end="url(#mb)"/><path d="M494.2,352V360" marker-end="url(#mb)"/><path d="M500.6,352V358" marker-end="url(#mb)"/><path d="M520.2,352V362" marker-end="url(#mb)"/><path d="M526.6,352V366" marker-end="url(#mb)"/>
</g>
</g>

<g id="control-panel">
<rect x="279" y="392" width="256" height="73" rx="7" fill="#fffcf0" stroke="#d9b444" stroke-width="1"/>
<circle cx="316" cy="413" r="4.5" fill="#fff" stroke="#222" stroke-width="1"/><path d="M312.8,409.8L319.2,416.2M319.2,409.8L312.8,416.2" stroke="#222" stroke-width="1"/>
<circle cx="498" cy="413" r="4.5" fill="#fff" stroke="#222" stroke-width="1"/><path d="M494.8,409.8L501.2,416.2M501.2,409.8L494.8,416.2" stroke="#222" stroke-width="1"/>
<circle cx="405" cy="444" r="4.5" fill="#fff" stroke="#222" stroke-width="1"/><path d="M400.5,444H409.5M405,439.5V448.5" stroke="#222" stroke-width="1"/>
<g class="ln">
<path d="M316,395V408" marker-end="url(#as)"/>
<path d="M498,395V408" marker-end="url(#as)"/>
<path d="M336,413H321" marker-end="url(#as)"/>
<path d="M478,413H493" marker-end="url(#as)"/>
<path d="M316,418V444H400" marker-end="url(#as)"/>
<path d="M498,418V444H410" marker-end="url(#as)"/>
<path d="M405,449V462" marker-end="url(#as)"/>
<path d="M340,413.5H371M423,413.5H455" stroke-width=".7"/>
<path d="M373,400V428M457,400V428" stroke-width=".8"/>
</g>
<text x="356" y="410" class="c" font-size="9" font-style="italic">d<tspan font-weight="bold">U</tspan><tspan font-style="normal" font-size="5.5" dy="-4">1</tspan><tspan dy="4" font-style="normal"> (</tspan>t<tspan font-style="normal">)</tspan></text>
<text x="356" y="423" class="c" font-size="9" font-style="italic">dt</text>
<text x="376" y="421" font-size="9" font-style="italic">t<tspan font-style="normal"> = </tspan>t′<tspan font-size="5.5" dy="2">n</tspan></text>
<text x="439" y="410" class="c" font-size="9" font-style="italic">d<tspan font-weight="bold">U</tspan><tspan font-style="normal" font-size="5.5" dy="-4">2</tspan><tspan dy="4" font-style="normal"> (</tspan>t<tspan font-style="normal">)</tspan></text>
<text x="439" y="423" class="c" font-size="9" font-style="italic">dt</text>
<text x="460" y="421" font-size="9" font-style="italic">t<tspan font-style="normal"> = </tspan>t′<tspan font-size="5.5" dy="2">n</tspan></text>
<text x="355" y="440" class="c" font-size="7">Output of Control 1</text>
<text x="462" y="440" class="c" font-size="7">Output of Control 2</text>
<text x="442" y="458" class="c" font-size="7">Output of NCDE</text>
</g>

<g id="legend">
<rect x="279" y="475" width="256" height="35" rx="5" fill="#fff" stroke="#333" stroke-width="1"/>
<rect class="cg" x="283" y="481" width="6.5" height="6.5"/>
<text x="292" y="487" font-size="6.5">Sampling Value of <tspan font-style="italic">v</tspan>_1</text>
<rect class="co" x="374" y="481" width="6.5" height="6.5"/>
<text x="383" y="487" font-size="6.5">Sampling Value of <tspan font-style="italic">v</tspan>_2</text>
<rect class="cb" x="458" y="481" width="6.5" height="6.5"/>
<text x="467" y="487" font-size="6.5">Sampling Value of <tspan font-style="italic">v</tspan>_<tspan font-style="italic">d</tspan></text>
<rect class="cd" x="283" y="497.5" width="6.5" height="6.5"/>
<text x="292" y="503.5" font-size="6.5">Missing Value</text>
<circle cx="377.5" cy="500.7" r="3.3" fill="#fff" stroke="#222" stroke-width="1"/><path d="M375.2,498.4L379.8,503M379.8,498.4L375.2,503" stroke="#222" stroke-width=".9"/>
<text x="383" y="503.5" font-size="6.5">Element Multiplication</text>
<circle cx="452.5" cy="500.7" r="3.3" fill="#fff" stroke="#222" stroke-width="1"/><path d="M449.2,500.7H455.8M452.5,497.4V504" stroke="#222" stroke-width=".9"/>
<text x="458" y="503.5" font-size="6.5">Element Addition</text>
</g>
</svg>
